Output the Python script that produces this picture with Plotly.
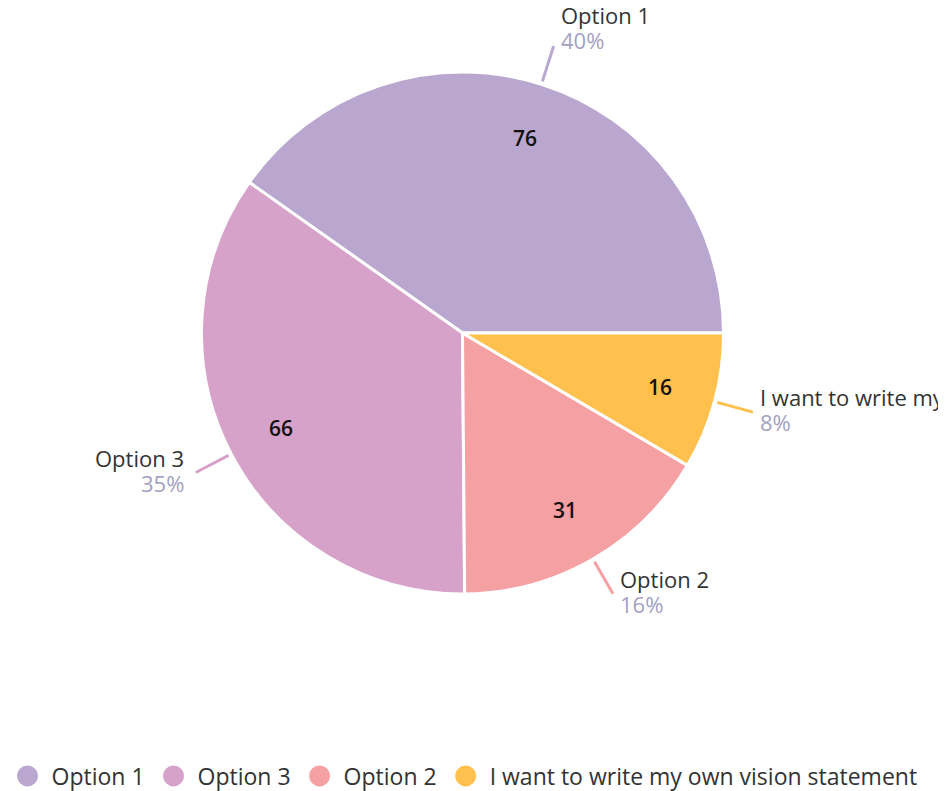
import math
import plotly.graph_objects as go

labels = ["Option 1", "Option 3", "Option 2", "I want to write my own vision statement"]
values = [76, 66, 31, 16]
colors = ["#b9a7d0", "#d7a2c9", "#f5a0a3", "#ffc04d"]

W, H = 946, 791
PAGE_OFF = 8  # default body margin of the html page
CX, CY, R = 462.5 - PAGE_OFF, 333.0 - PAGE_OFF, 261.0
LEGEND_Y = 776 - PAGE_OFF
FONT = "Open Sans"
FSIZE = 22
PCT_COLOR = "#a3a1c2"
TEXT_COLOR = "#333333"

total = sum(values)

fig = go.Figure()
fig.add_trace(go.Pie(
    labels=labels, values=values, sort=False, direction="counterclockwise",
    rotation=90 - values[0] / total * 360, showlegend=False,
    marker=dict(colors=colors, line=dict(color="white", width=3)),
    textinfo="none",
    domain=dict(x=[(CX - R) / W, (CX + R) / W], y=[1 - (CY + R) / H, 1 - (CY - R) / H]),
    hoverinfo="label+value+percent",
))

# legend entries with round markers
for lab, col in zip(labels, colors):
    fig.add_trace(go.Scatter(
        x=[None], y=[None], mode="markers", name=lab,
        marker=dict(symbol="circle", size=16, color=col, line=dict(color=col, width=5)),
    ))

shapes, annotations = [], []
cum = 0.0
for lab, val, col in zip(labels, values, colors):
    a0 = cum / total * 360
    cum += val
    a1 = cum / total * 360
    mid = math.radians((a0 + a1) / 2)
    c, s = math.cos(mid), math.sin(mid)
    # value label inside slice
    rv = 0.785 * R
    annotations.append(dict(
        xref="paper", yref="paper", x=(CX + rv * c) / W, y=1 - (CY - rv * s) / H,
        xanchor="center", yanchor="middle", showarrow=False, text=str(val),
        font=dict(family=FONT, size=21, color="#111111", weight=600),
    ))
    # leader line
    r1, r2 = R + 3, R + 40
    x1, y1 = CX + r1 * c, CY - r1 * s
    x2, y2 = CX + r2 * c, CY - r2 * s
    shapes.append(dict(type="line", xref="paper", yref="paper",
                       x0=x1 / W, y0=1 - y1 / H, x1=x2 / W, y1=1 - y2 / H,
                       line=dict(color=col, width=3)))
    pct = round(val / total * 100)
    if c >= 0:
        xa, ax = "left", x2 + 5
    else:
        xa, ax = "right", x2 - 10
    name_y = y2 - (31 if s > 0.9 else 15)
    annotations.append(dict(
        xref="paper", yref="paper", x=ax / W, y=1 - name_y / H, xanchor=xa, yanchor="middle",
        align=xa, showarrow=False, text=lab,
        font=dict(family=FONT, size=FSIZE, color=TEXT_COLOR, weight=500),
    ))
    annotations.append(dict(
        xref="paper", yref="paper", x=ax / W, y=1 - (name_y + 25) / H, xanchor=xa,
        yanchor="middle", align=xa, showarrow=False, text=f"{pct}%",
        font=dict(family=FONT, size=FSIZE, color=PCT_COLOR, weight=500),
    ))

fig.update_layout(
    width=W, height=H, margin=dict(l=0, r=0, t=0, b=0, autoexpand=False),
    paper_bgcolor="white", plot_bgcolor="white",
    xaxis=dict(visible=False), yaxis=dict(visible=False),
    shapes=shapes, annotations=annotations,
    legend=dict(orientation="h", x=(463 - PAGE_OFF) / W, xanchor="center",
                y=1 - LEGEND_Y / H, yanchor="middle", itemwidth=38,
                font=dict(family=FONT, size=23, color=TEXT_COLOR, weight=500),
                itemsizing="trace"),
    font=dict(family=FONT),
)
fig.write_html("out.html")
